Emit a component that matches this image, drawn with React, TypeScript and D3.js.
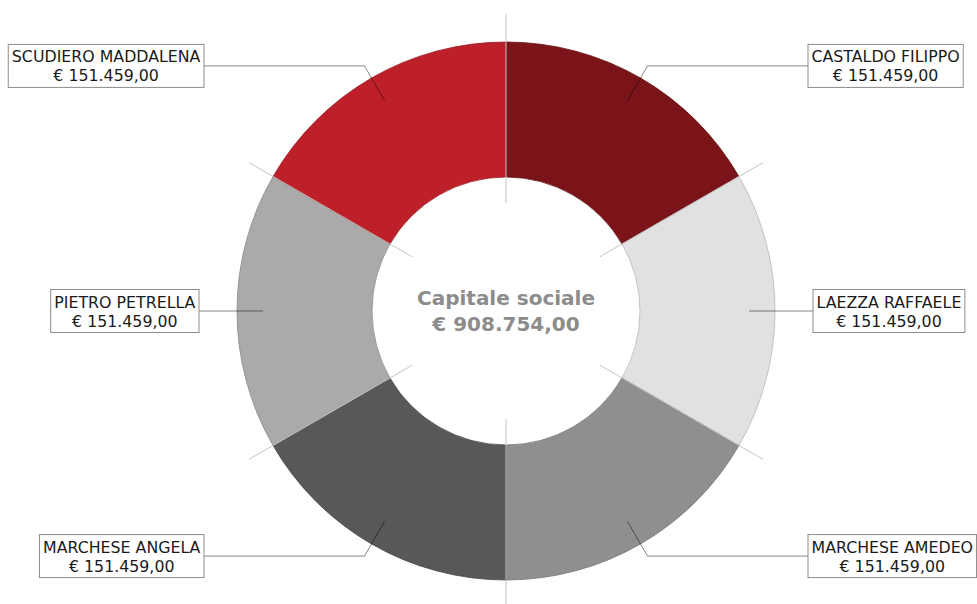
import React, { useEffect, useRef } from "react";
import * as d3 from "d3";

const soci = [
  "CASTALDO FILIPPO",
  "LAEZZA RAFFAELE",
  "MARCHESE AMEDEO",
  "MARCHESE ANGELA",
  "PIETRO PETRELLA",
  "SCUDIERO MADDALENA",
];
const quote = [151459, 151459, 151459, 151459, 151459, 151459];
const colori = ["#7b1418", "#e1e1e1", "#8f8f8f", "#595757", "#aaaaaa", "#be202a"];
const titolo = "Capitale sociale";
const totale = 908754;

const euro = (v: number) =>
  "€ " +
  d3
    .format(",.2f")(v)
    .replace(/,/g, "#")
    .replace(".", ",")
    .replace(/#/g, ".");

export default function App() {
  const ref = useRef<SVGSVGElement>(null);

  useEffect(() => {
    const width = 977;
    const height = 604;
    const cx = 506;
    const cy = 311;
    const outer = 269;
    const inner = 134;

    const svg = d3.select(ref.current);
    svg.selectAll("*").remove();
    svg.attr("width", width).attr("height", height);

    const g = svg.append("g").attr("transform", `translate(${cx},${cy})`);

    const data = soci.map((nome, i) => ({ nome, valore: quote[i], colore: colori[i] }));
    const pie = d3
      .pie<{ nome: string; valore: number; colore: string }>()
      .value((d) => d.valore)
      .sort(null);
    const arcs = pie(data);
    const arc = d3
      .arc<d3.PieArcDatum<{ nome: string; valore: number; colore: string }>>()
      .innerRadius(inner)
      .outerRadius(outer);

    // slices
    g.selectAll("path.slice")
      .data(arcs)
      .enter()
      .append("path")
      .attr("class", "slice")
      .attr("d", arc)
      .attr("fill", (d) => d.data.colore)
      .attr("stroke", (d) => d3.color(d.data.colore)!.darker(0.6).formatHex())
      .attr("stroke-width", 0.8);

    // divider lines between slices
    const point = (a: number, r: number): [number, number] => [
      Math.sin(a) * r,
      -Math.cos(a) * r,
    ];
    g.selectAll("line.div")
      .data(arcs)
      .enter()
      .append("line")
      .attr("class", "div")
      .attr("x1", (d) => point(d.startAngle, 108)[0])
      .attr("y1", (d) => point(d.startAngle, 108)[1])
      .attr("x2", (d) => point(d.startAngle, 297)[0])
      .attr("y2", (d) => point(d.startAngle, 297)[1])
      .attr("stroke", "#c4c4c4")
      .attr("stroke-width", 1);

    // center text
    const center = g
      .append("text")
      .attr("text-anchor", "middle")
      .style("font-family", "DejaVu Sans")
      .style("font-weight", "bold")
      .style("font-size", "20px")
      .attr("fill", "#8c8c8c");
    center.append("tspan").attr("x", 0).attr("y", -6).text(titolo);
    center.append("tspan").attr("x", 0).attr("y", 20).text(euro(totale));

    // labels with connectors
    arcs.forEach((d) => {
      const mid = (d.startAngle + d.endAngle) / 2;
      const right = Math.sin(mid) > 0;
      const side = right ? 1 : -1;
      const p1 = point(mid, 243);
      const p2 = point(mid, 283);
      const horizontal = Math.abs(Math.cos(mid)) < 0.1;
      const edge = side * (horizontal ? 307 : 302);
      const ly = horizontal ? p1[1] : p2[1];

      g.append("polyline")
        .attr(
          "points",
          (horizontal ? [p1, [edge, ly]] : [p1, p2, [edge, ly]])
            .map((p) => p.join(","))
            .join(" ")
        )
        .attr("fill", "none")
        .attr("stroke", "#000")
        .attr("stroke-opacity", 0.48)
        .attr("stroke-width", 1);

      const lab = g.append("g");
      const rect = lab.append("rect");
      const txt = lab
        .append("text")
        .attr("text-anchor", "middle")
        .style("font-family", "DejaVu Sans")
        .style("font-size", "15.8px")
        .attr("fill", "#1a1a1a");
      txt.append("tspan").attr("x", 0).attr("y", -3.5).text(d.data.nome);
      txt.append("tspan").attr("x", 0).attr("y", 15.5).text(euro(d.data.valore));
      const w = (txt.node() as SVGTextElement).getBBox().width + 7;
      const bx = right ? edge : edge - w;
      lab.attr("transform", `translate(${bx + w / 2},${ly})`);
      rect
        .attr("x", -w / 2)
        .attr("y", -21.5)
        .attr("width", w)
        .attr("height", 43)
        .attr("fill", "#fff")
        .attr("stroke", "#8c8c8c")
        .attr("stroke-width", 1);
    });
  }, []);

  return <svg ref={ref} style={{ position: "absolute", left: 0, top: 0 }} />;
}
